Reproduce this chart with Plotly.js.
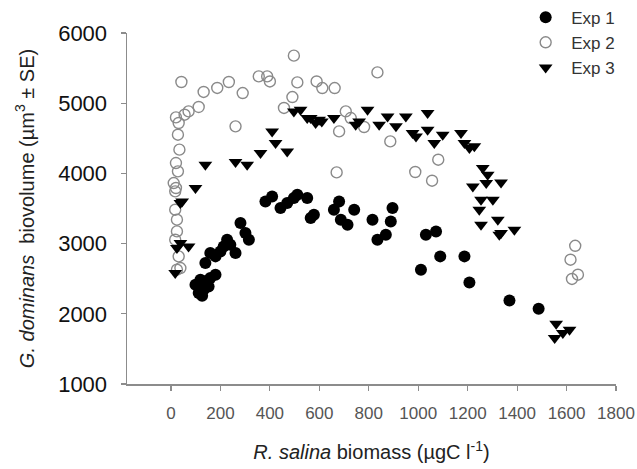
<!DOCTYPE html>
<html>
<head>
<meta charset="utf-8">
<script src="https://cdn.plot.ly/plotly-3.0.1.min.js"></script>
<style>html,body{margin:0;padding:0;background:#fff;}#chart{width:637px;height:469px;}</style>
</head>
<body>
<div id="chart"></div>
<script>
const exp1X = [99,119,139,159,180,112,132,152,126, 139,159,180,200,213,227,240,261,281,301,315, 382,409,443,470,497,511,551,578,565,659,680,687,714,741,815,835,869,896,889, 1031,1072,1011,1089,1187,1207,1369,1487];
const exp1Y = [2414,2486,2462,2510,2557,2296,2343,2390,2258, 2724,2866,2818,2889,2960,3056,2984,2866,3293,3151,3056, 3601,3672,3507,3578,3650,3697,3650,3412,3365,3483,3601,3340,3269,3483,3340,3055,3127,3507,3316, 3127,3174,2628,2818,2818,2447,2191,2073];

const exp2X = [42,132,187,234,290,112,71,55,20,31,28,34,20,28,11,20,261,355, 497,389,400,511,589,612,662,491,457,707,680,781,835,670, 727,887,1081,988,1056, 17,17,24,24,17,31,38,24, 1635,1616,1622,1646];
const exp2Y = [5302,5160,5217,5302,5145,4946,4883,4836,4798,4718,4551,4338,4148,4029,3863,3792,4670,5382, 5677,5382,5310,5296,5310,5216,5216,5088,4932,4883,4598,4661,5439,4014, 4789,4456,4195,4020,3896, 3744,3483,3340,3174,3055,2818,2652,2628, 2969,2771,2496,2557];

const exp3X = [139,261,308,362,99,409,423,470,45,38,38,71,24,17, 497,524,565,585,599,659,747,761,795,842, 876,910,950,977,991,1038,1038,1065,1099,1173,1187,1207,1227,1261,1281,1275,1221,1335,1254,1302,1247,1322,1254,1335,1389,1328, 1558,1585,1612,1552, 551,610];
const exp3Y = [4124,4162,4124,4290,3792,4598,4433,4313,3601,3578,3009,2960,2937,2581, 4883,4907,4789,4718,4765,4789,4694,4741,4907,4694, 4812,4670,4812,4575,4527,4860,4623,4433,4551,4575,4433,4362,4385,4077,3981,3863,3815,3872,3625,3625,3483,3340,3269,3151,3198,3127, 1859,1726,1774,1655, 4789,4741];

const seriesNames = ["Exp 1", "Exp 2", "Exp 3"];
const xTicks = [0,200,400,600,800,1000,1200,1400,1600,1800];
const yTicks = [1000,2000,3000,4000,5000,6000];

const FONT = "Liberation Sans, Arial, sans-serif";

const traces = [
  {x: exp1X, y: exp1Y, name: seriesNames[0], type: "scatter", mode: "markers", cliponaxis: false,
   marker: {symbol: "circle", size: 12, color: "#000", line: {width: 0}}},
  {x: exp2X, y: exp2Y, name: seriesNames[1], type: "scatter", mode: "markers", cliponaxis: false,
   marker: {symbol: "circle-open", size: 11, color: "#8a8a8a", line: {width: 1.4, color: "#8a8a8a"}}},
  {x: exp3X, y: exp3Y, name: seriesNames[2], type: "scatter", mode: "markers", cliponaxis: false,
   marker: {symbol: "triangle-down", size: 12, color: "#000", line: {width: 0}}}
];

const layout = {
  width: 637, height: 469,
  margin: {l: 127, r: 21, t: 33, b: 85, autoexpand: false},
  paper_bgcolor: "#fff", plot_bgcolor: "#fff",
  font: {family: FONT, color: "#222"},
  showlegend: true,
  legend: {x: 0.804, y: 1.095, xanchor: "left", yanchor: "top", font: {size: 17, color: "#333", family: FONT},
           bgcolor: "rgba(0,0,0,0)", tracegroupgap: 0, itemwidth: 41},
  xaxis: {
    range: [-178, 1800], tickvals: xTicks, ticktext: xTicks.map(String),
    showgrid: false, zeroline: false, showline: true, linecolor: "#8c8c8c", linewidth: 1.5,
    ticks: "outside", ticklen: 5, tickwidth: 1.2, tickcolor: "#8c8c8c",
    tickfont: {size: 17, color: "#555", family: FONT}, ticklabelstandoff: 8,
    title: {text: "<i>R. salina</i> biomass (µgC l<sup>-1</sup>)", font: {size: 20, color: "#222", family: FONT}, standoff: 23}
  },
  yaxis: {
    range: [1000, 6000], tickvals: yTicks, ticktext: yTicks.map(String),
    showgrid: false, zeroline: false, showline: true, linecolor: "#8c8c8c", linewidth: 1.5,
    ticks: "outside", ticklen: 5, tickwidth: 1.2, tickcolor: "#8c8c8c",
    tickfont: {size: 22, color: "#111", family: FONT}, ticklabelstandoff: 9,
    title: {text: "<i>G. dominans</i>  biovolume (µm<sup>3</sup> ± SE)", font: {size: 20, color: "#222", family: FONT}, standoff: 18}
  }
};

Plotly.newPlot("chart", traces, layout, {displayModeBar: false, staticPlot: true});
</script>
</body>
</html>
